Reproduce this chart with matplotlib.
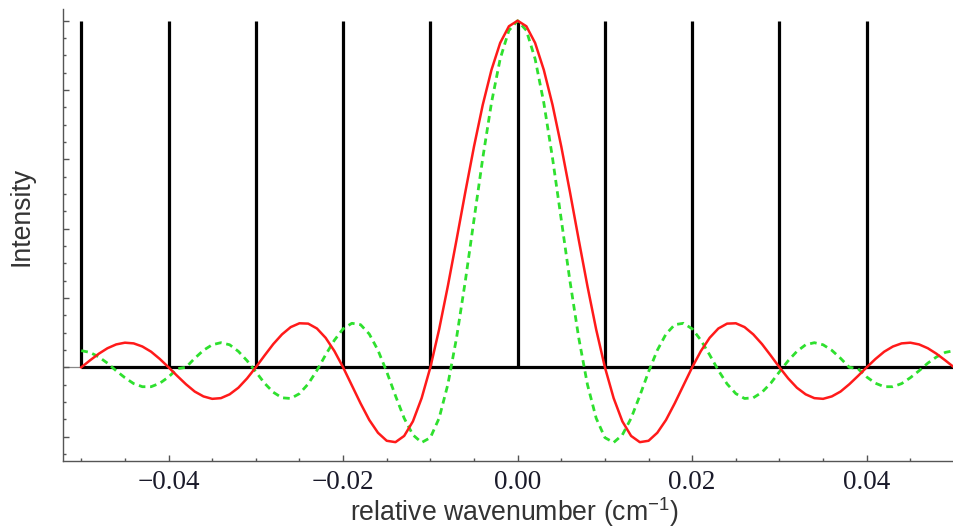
import numpy as np
import matplotlib.pyplot as plt

plt.rcParams['mathtext.default'] = 'regular'

# sample grid (cm^-1), one point every 0.001 from -0.05 to 0.05
wavenumber = np.linspace(-0.05, 0.05, 101)

# red curve (left half incl. 0, right half mirrors it)
red_half = [1.000, 0.984, 0.936, 0.858, 0.757, 0.637, 0.505, 0.368, 0.234, 0.109,
            0.000, -0.089, -0.156, -0.198, -0.216, -0.212, -0.189, -0.152, -0.104, -0.052,
            0.000, 0.047, 0.085, 0.112, 0.126, 0.127, 0.116, 0.095, 0.067, 0.034,
            0.000, -0.032, -0.059, -0.078, -0.089, -0.091, -0.084, -0.070, -0.049, -0.025,
            0.000, 0.024, 0.045, 0.060, 0.069, 0.071, 0.066, 0.055, 0.039, 0.020,
            0.000]
# green dashed curve, same grid
green_half = [1.000, 0.972, 0.890, 0.763, 0.603, 0.426, 0.248, 0.085, -0.050, -0.147,
              -0.203, -0.217, -0.195, -0.147, -0.082, -0.013, 0.049, 0.096, 0.123, 0.127,
              0.111, 0.078, 0.036, -0.009, -0.048, -0.076, -0.090, -0.088, -0.072, -0.046,
              -0.013, 0.019, 0.046, 0.065, 0.071, 0.065, 0.049, 0.026, 0.000, -0.004,
              -0.028, -0.046, -0.056, -0.056, -0.047, -0.030, -0.010, 0.012, 0.030, 0.043,
              0.048]
red = np.array(red_half[::-1] + red_half[1:])
green = np.array(green_half[::-1] + green_half[1:])

# comb of lines
comb_pos = [-0.05, -0.04, -0.03, -0.02, -0.01, 0.0, 0.01, 0.02, 0.03, 0.04, 0.05]
comb_height = 1.0

xtick_pos = [-0.04, -0.02, 0.0, 0.02, 0.04]
xtick_labels = ['\u22120.04', '\u22120.02', '0.00', '0.02', '0.04']

fig = plt.figure(figsize=(9.54, 5.29), dpi=100)
ax = fig.add_axes([63.3 / 954, 1 - 460.7 / 529, 1 - 63.3 / 954, (460.7 - 9) / 529])

ax.axhline(0, color='#888888', lw=0.9, zorder=1)
ax.vlines(comb_pos, 0, comb_height, color='black', lw=2.3, capstyle='butt', zorder=2)
ax.hlines(0, comb_pos[0], comb_pos[-1], color='black', lw=2.3, zorder=2)

ax.plot(wavenumber, red, color='#ff1a1a', lw=1.8, zorder=4)
ax.plot(wavenumber, green, color='#2ee02e', lw=2.0, dashes=(2.4, 1.7), zorder=3)

ax.set_xlim(-0.05206, 0.04925)
ax.set_ylim(-0.2695, 1.0338)

for side in ['top', 'right']:
    ax.spines[side].set_visible(False)
for side in ['left', 'bottom']:
    ax.spines[side].set_color('#555555')
    ax.spines[side].set_linewidth(1.0)

ax.set_xticks(xtick_pos)
ax.set_xticklabels(xtick_labels, family='Liberation Serif', fontsize=19.5, color='#1a1a2a')
ax.set_xticks(np.arange(-0.05, 0.0501, 0.005), minor=True)
ax.set_yticks([-0.2, 0.0, 0.2, 0.4, 0.6, 0.8, 1.0])
ax.set_yticks(np.arange(-0.25, 1.0001, 0.05), minor=True)
ax.set_yticklabels([])
ax.tick_params(which='both', direction='in', color='#555555', width=1.0)
ax.tick_params(which='major', length=4.5)
ax.tick_params(which='minor', length=2.5)
ax.tick_params(axis='x', which='major', pad=7)

# axis titles placed in figure pixels to match the reference
fig.text(514 / 954, 8 / 529, 'relative wavenumber (cm$^{-1}$)', family='Liberation Sans',
         fontsize=19.2, color='#333333', ha='center', va='baseline')
fig.text(22 / 954, 1 - 216 / 529, 'Intensity', family='Liberation Sans', fontsize=19.2,
         color='#333333', rotation=90, ha='center', va='center')

fig.savefig('out.png', dpi=100)
